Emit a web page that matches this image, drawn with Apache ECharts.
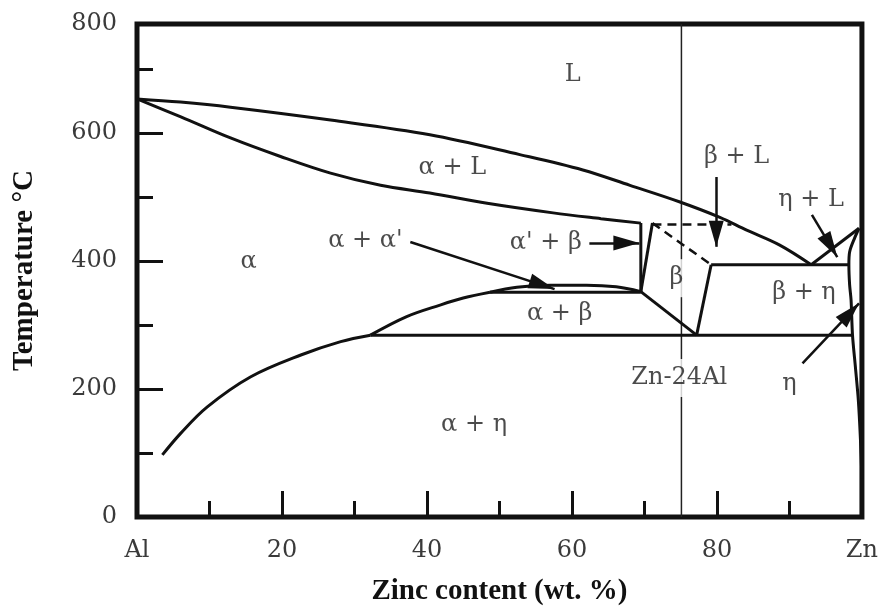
<!DOCTYPE html>
<html><head><meta charset="utf-8">
<script src="https://cdn.jsdelivr.net/npm/echarts@6/dist/echarts.min.js"></script>
<style>html,body{margin:0;padding:0;background:#fff}#c{width:881px;height:611px}</style>
</head><body><div id="c"></div>
<script>
// ---- tick labels ----
const xTickLabels = ['Al', '20', '40', '60', '80', 'Zn'];
const yTickLabels = ['0', '200', '400', '600', '800'];

// ---- phase boundaries (wt.% Zn, °C) ----
const liquidus = [[0,653],[6,648],[12.9,640],[26.7,620],[40.4,597],[52.8,566],[61.5,542],[68,518],[74.9,492],[80.4,468],[84.1,448],[88.6,425],[93,394]];
const alphaSolidus = [[0,653],[6.05,625],[12.9,592],[19.8,563],[26.7,537],[33.6,518],[40.4,506],[48.3,490],[57.4,475],[64,466],[69.5,459]];
const solvusLow = [[3.5,97],[6.05,131],[9.7,172],[15.7,219],[22.6,253],[28.1,274],[32.2,284]];
const solvusHigh = [[32.2,284],[37.2,313],[41.8,331],[45,342],[48.7,351]];
const miscibilityDome = [[48.7,351],[52.4,359],[57,362],[62,362],[66.1,359.5],[69.5,352]];
const monotectoidLine = [[48.7,351],[69.5,351]];
const alphaPrimeLeft = [[69.5,459],[69.5,352]];
const alphaPrimeRight = [[71.1,459],[69.5,352]];
const betaLowerLeft = [[69.5,352],[77.2,284]];
const betaRight = [[77.2,284],[79.2,394]];
const betaDashedDiag = [[71.1,459],[79.2,394]];
const betaDashedTop = [[71.1,457],[82,457]];
const eutecticLine = [[79.2,394],[98.2,394]];
const eutectoidLine = [[32.2,284],[98.7,284]];
const etaLiquidus = [[93,394],[99.6,451]];
const etaSolvus = [[99.6,451],[99.0,436],[98.3,414],[98.2,394],[98.3,363],[98.5,339],[98.7,284],[99.1,234],[99.5,183],[99.8,120],[100,60]];
const alloyLine = [[75.1,0],[75.1,770]];

// ---- arrows: [from, to] ----
const arrows = [
  [[37.7,429.5],[57.6,356]],
  [[62.4,428],[69.3,428]],
  [[79.9,531],[79.9,422]],
  [[93.1,472],[96.6,406]],
  [[91.8,240],[99.6,333.7]]
];

// ---- region labels ----
const regionLabels = [
  ['L', 60.1, 690],
  ['α + L', 43.5, 545],
  ['α', 15.4, 398],
  ["α + α'", 31.5, 432],
  ["α' + β", 56.4, 428],
  ['β', 74.4, 373],
  ['β + L', 82.7, 562],
  ['η + L', 93.0, 495],
  ['β + η', 92.0, 350],
  ['α + β', 58.3, 318],
  ['Zn-24Al', 74.8, 217],
  ['η', 90.0, 208],
  ['α + η', 46.5, 144]
];
const gapLabels = ['β', 'Zn-24Al'];

const solid = [liquidus, alphaSolidus, solvusLow, solvusHigh, miscibilityDome];
const straight = [monotectoidLine, alphaPrimeLeft, alphaPrimeRight, betaLowerLeft, betaRight, eutecticLine, eutectoidLine, etaLiquidus, etaSolvus];
const dashed = [betaDashedDiag, betaDashedTop];

const series = [];
solid.forEach(d => series.push({type:'line', data:d, smooth:0.35, symbol:'none', lineStyle:{color:'#111', width:3}, z:3}));
straight.forEach(d => series.push({type:'line', data:d, smooth: d === etaSolvus ? 0.3 : false, symbol:'none', lineStyle:{color:'#111', width:3}, z:3}));
dashed.forEach(d => series.push({type:'line', data:d, symbol:'none', lineStyle:{color:'#111', width:2.5, type:[9,6]}, z:3}));
series.push({type:'line', data:alloyLine, symbol:'none', lineStyle:{color:'#222', width:1.5}, z:2});
series.push({
  type:'line', data:[], z:4,
  markLine:{
    silent:true, animation:false,
    symbol:'none',
    lineStyle:{color:'#111', width:2.5, type:'solid'},
    itemStyle:{color:'#111'},
    label:{show:false},
    emphasis:{disabled:true},
    data: arrows.map(a => [
      {coord:a[0], symbol:'none'},
      {coord:a[1], symbol:'triangle', symbolSize:[15,26], symbolOffset:[0,'50%']}
    ])
  }
});
series.push({
  type:'scatter', z:10, symbolSize:0, silent:true,
  data: regionLabels.map(l => {
    const item = {name:l[0], value:[l[1], l[2]]};
    if (gapLabels.includes(l[0])) item.label = {backgroundColor:'#fff', padding:[7,3]};
    return item;
  }),
  label:{show:true, position:'inside', formatter:'{b}', fontFamily:'DejaVu Serif', fontSize:24, color:'#1e1e1e'}
});

const chart = echarts.init(document.getElementById('c'), null, {renderer:'canvas'});
chart.setOption({
  animation:false,
  grid:{left:137, right:19, top:24, bottom:94, show:true, borderColor:'#111', borderWidth:5, backgroundColor:'transparent'},
  xAxis:{
    type:'value', min:0, max:100, interval:20,
    name:'Zinc content (wt. %)', nameLocation:'middle', nameGap:60,
    nameTextStyle:{fontFamily:'Liberation Serif', fontWeight:'bold', fontSize:29, color:'#111'},
    axisLine:{show:false},
    axisTick:{show:true, inside:true, length:26, lineStyle:{color:'#111', width:3}},
    minorTick:{show:true, splitNumber:2, length:16, lineStyle:{color:'#111', width:3}},
    splitLine:{show:false},
    axisLabel:{margin:22, fontFamily:'DejaVu Serif', fontSize:24, color:'#3a3a3a', showMinLabel:true, showMaxLabel:true,
      formatter:(v, i) => xTickLabels[i]}
  },
  yAxis:{
    type:'value', min:0, max:770, interval:200,
    name:'Temperature °C', nameLocation:'middle', nameGap:98, nameRotate:90,
    nameTextStyle:{fontFamily:'Liberation Serif', fontWeight:'bold', fontSize:29, color:'#111'},
    axisLine:{show:false},
    axisTick:{show:true, inside:true, length:26, lineStyle:{color:'#111', width:3}},
    minorTick:{show:true, splitNumber:2, length:16, lineStyle:{color:'#111', width:3}},
    splitLine:{show:false},
    axisLabel:{margin:20, fontFamily:'DejaVu Serif', fontSize:24, color:'#3a3a3a', showMinLabel:true, showMaxLabel:true,
      formatter:(v, i) => yTickLabels[i]}
  },
  series: series
});
</script>
</body></html>
